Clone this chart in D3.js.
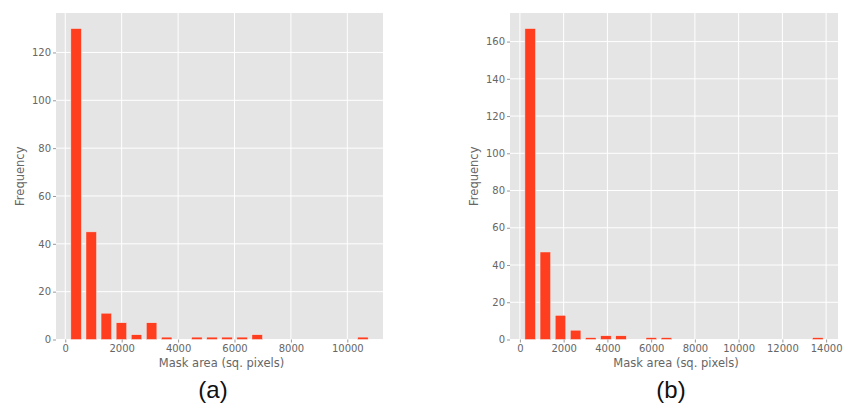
<!DOCTYPE html>
<html>
<head>
<meta charset="utf-8">
<script src="https://cdn.jsdelivr.net/npm/d3@7"></script>
<style>
  body { margin: 0; background: #fff; }
  svg { display: block; }
</style>
</head>
<body>
<svg id="chart" width="844" height="405"></svg>
<script>
// histogram (a): 20 equal bins between min and max mask area
const binRangeA = [118, 10818];
const countsA = [130, 45, 11, 7, 2, 7, 1, 0, 1, 1, 1, 1, 2, 0, 0, 0, 0, 0, 0, 1];
const xTicksA = [0, 2000, 4000, 6000, 8000, 10000];
const yTicksA = [0, 20, 40, 60, 80, 100, 120];

// histogram (b)
const binRangeB = [125, 13965];
const countsB = [167, 47, 13, 5, 1, 2, 2, 0, 1, 1, 0, 0, 0, 0, 0, 0, 0, 0, 0, 1];
const xTicksB = [0, 2000, 4000, 6000, 8000, 10000, 12000, 14000];
const yTicksB = [0, 20, 40, 60, 80, 100, 120, 140, 160];

const xLabel = "Mask area (sq. pixels)";
const yLabel = "Frequency";
const panelLabels = ["(a)", "(b)"];

const svg = d3.select("#chart");
const barColor = "#ff3d1f";

function drawHist(box, binRange, counts, xTicks, yTicks, tag) {
    const n = counts.length;
    const w = (binRange[1] - binRange[0]) / n;
    const rw = 0.7; // bar width relative to bin
    const lo = binRange[0] + w * (1 - rw) / 2;
    const hi = binRange[1] - w * (1 - rw) / 2;
    const pad = (hi - lo) * 0.05; // matplotlib default margin

    const x = d3.scaleLinear().domain([lo - pad, hi + pad]).range([box.left, box.right]);
    const y = d3.scaleLinear().domain([0, d3.max(counts) * 1.05]).range([box.bottom, box.top]);

    const g = svg.append("g");

    g.append("rect")
        .attr("x", box.left).attr("y", box.top)
        .attr("width", box.right - box.left)
        .attr("height", box.bottom - box.top)
        .attr("fill", "#e5e5e5");

    // grid
    g.selectAll(".gx").data(xTicks).enter().append("line")
        .attr("x1", d => x(d)).attr("x2", d => x(d))
        .attr("y1", box.top).attr("y2", box.bottom)
        .attr("stroke", "#fff").attr("stroke-width", 1);
    g.selectAll(".gy").data(yTicks).enter().append("line")
        .attr("x1", box.left).attr("x2", box.right)
        .attr("y1", d => y(d)).attr("y2", d => y(d))
        .attr("stroke", "#fff").attr("stroke-width", 1);

    g.selectAll(".bar").data(counts).enter().append("rect")
        .attr("class", "bar")
        .attr("x", (d, i) => x(binRange[0] + i * w + w * (1 - rw) / 2))
        .attr("width", x(w * rw) - x(0))
        .attr("y", d => y(d))
        .attr("height", d => y(0) - y(d))
        .attr("fill", barColor)
        .attr("stroke", d => d > 0 ? "#eeeeee" : "none")
        .attr("stroke-width", 0.5);

    const xAxis = g.append("g")
        .attr("transform", `translate(0,${box.bottom})`)
        .call(d3.axisBottom(x).tickValues(xTicks).tickFormat(d3.format("d")).tickSize(3).tickPadding(2));
    const yAxis = g.append("g")
        .attr("transform", `translate(${box.left},0)`)
        .call(d3.axisLeft(y).tickValues(yTicks).tickFormat(d3.format("d")).tickSize(3).tickPadding(2));

    [xAxis, yAxis].forEach(a => {
        a.select(".domain").remove();
        a.selectAll(".tick line").attr("stroke", "#999");
        a.selectAll("text")
            .attr("fill", "#666")
            .style("font-family", "DejaVu Sans")
            .style("font-size", "10px");
    });

    g.append("text")
        .attr("x", (box.left + box.right) / 2 + 2)
        .attr("y", 367)
        .attr("text-anchor", "middle")
        .attr("fill", "#666")
        .style("font-family", "DejaVu Sans")
        .style("font-size", "11.5px")
        .text(xLabel);

    g.append("text")
        .attr("transform", `translate(${box.left - 32},${(box.top + box.bottom) / 2}) rotate(-90)`)
        .attr("text-anchor", "middle")
        .attr("fill", "#666")
        .style("font-family", "DejaVu Sans")
        .style("font-size", "11.5px")
        .text(yLabel);

    g.append("text")
        .attr("x", box.tagX)
        .attr("y", 398)
        .attr("text-anchor", "middle")
        .attr("fill", "#111")
        .style("font-family", "Liberation Sans, Arial, sans-serif")
        .style("font-size", "24px")
        .text(tag);
}

drawHist({ left: 56, right: 383, top: 13, bottom: 339.5, tagX: 213 },
    binRangeA, countsA, xTicksA, yTicksA, panelLabels[0]);
drawHist({ left: 510, right: 838, top: 13, bottom: 339.5, tagX: 671 },
    binRangeB, countsB, xTicksB, yTicksB, panelLabels[1]);
</script>
</body>
</html>
